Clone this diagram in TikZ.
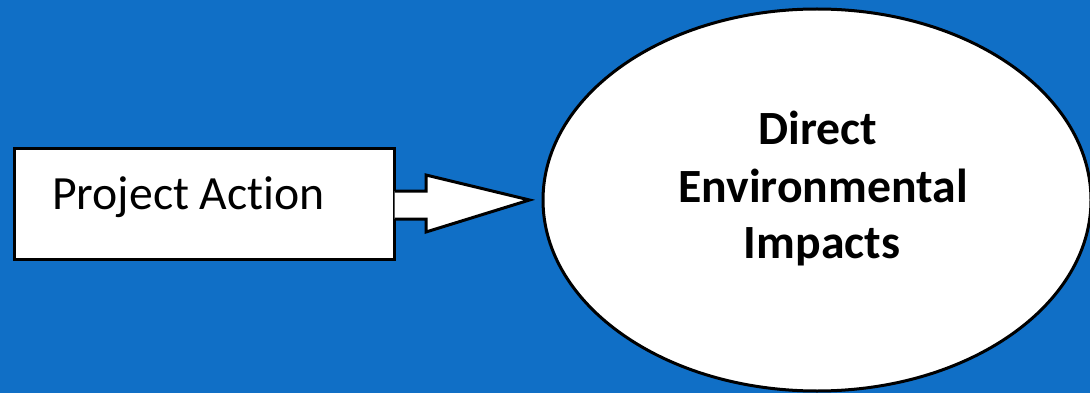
\documentclass[tikz,border=0pt]{standalone}
\usepackage{fontspec}
\setmainfont{Carlito}[Ligatures=NoCommon]
\usetikzlibrary{shapes.geometric}
\definecolor{bg}{RGB}{16,111,198}
\tikzset{
  outline/.style={draw=black, line width=3pt, fill=white, line join=miter},
  boxlabel/.style={font=\fontsize{47.7}{56}\selectfont, anchor=base west, inner sep=0pt},
  elllabel/.style={font=\bfseries\fontsize{47.7}{56}\selectfont, anchor=base, inner sep=0pt}
}
\begin{document}
\begin{tikzpicture}[x=1pt,y=-1pt]
\fill[bg] (0,0) rectangle (1090,393);
\useasboundingbox (0,0) rectangle (1090,393);
% rectangle
\node[outline, rectangle, minimum width=380pt, minimum height=111pt, inner sep=0pt, anchor=north west] (pa) at (13,147) {};
\node[boxlabel] (patext) at (52,209) {Project Action};
% ellipse
\node[outline, ellipse, minimum width=548pt, minimum height=382pt, inner sep=0pt] (dei) at (817,200) {};
\node[elllabel] (l1) at (818,145) {Direct};
\node[elllabel] (l2) at (823,202) {Environmental};
\node[elllabel] (l3) at (822,258) {Impacts};
% block arrow from pa to dei
\coordinate (s1) at ([yshift=13pt]pa.east);
\coordinate (s2) at ([yshift=-15pt]pa.east);
\coordinate (tip) at ([xshift=-12pt]dei.west);
\coordinate (hb) at ([xshift=30pt,yshift=-13pt]s2);
\fill[white] ([xshift=-1.5pt]s1) -- ++(31.5,0) -- ++(0,-16) -- (tip) -- (hb) -- ++(0,-13) -- ([xshift=-1.5pt]s2) -- cycle;
\draw[line width=3pt, line join=miter] ([xshift=-1.5pt]s1) -- ++(31.5,0) -- ++(0,-16) -- (tip) -- (hb) -- ++(0,-13) -- ([xshift=-1.5pt]s2);
\end{tikzpicture}
\end{document}
